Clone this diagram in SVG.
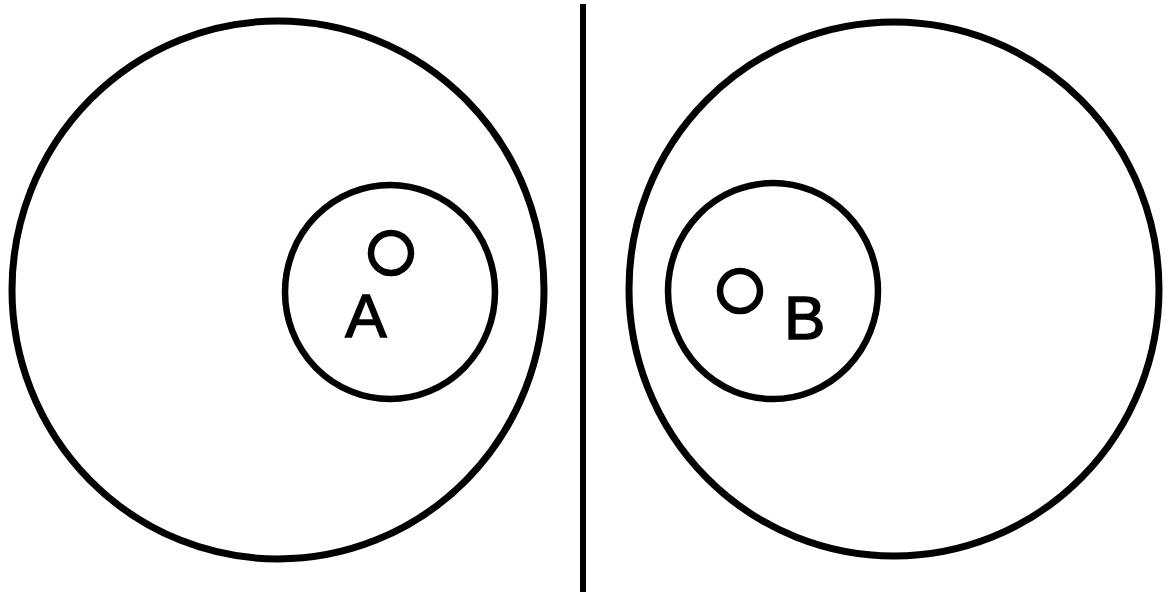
<svg xmlns="http://www.w3.org/2000/svg" width="1165" height="600" viewBox="0 0 1165 600">
<style>
.c{fill:none;stroke:#000;stroke-width:7}
.m{fill:none;stroke:#000;stroke-width:6.5}
.t{font-family:"Liberation Sans",Arial,sans-serif;font-size:62px;fill:#000;stroke:#000;stroke-width:1.5}
</style>
<rect width="1165" height="600" fill="#fff"/>
<g id="left">
<ellipse class="c" cx="278" cy="290" rx="266" ry="269"/>
<ellipse class="m" cx="390" cy="292" rx="105" ry="107"/>
<circle class="m" cx="391" cy="253" r="20"/>
<text class="t" x="366" y="337" text-anchor="middle">A</text>
</g>
<g id="right">
<ellipse class="c" cx="894" cy="289" rx="265" ry="267"/>
<ellipse class="m" cx="773" cy="291" rx="105" ry="108"/>
<circle class="m" cx="740" cy="291" r="20"/>
<text class="t" x="784" y="339">B</text>
</g>
<g id="connectors">
<line x1="583" y1="4" x2="583" y2="592" stroke="#000" stroke-width="6"/>
</g>
</svg>
